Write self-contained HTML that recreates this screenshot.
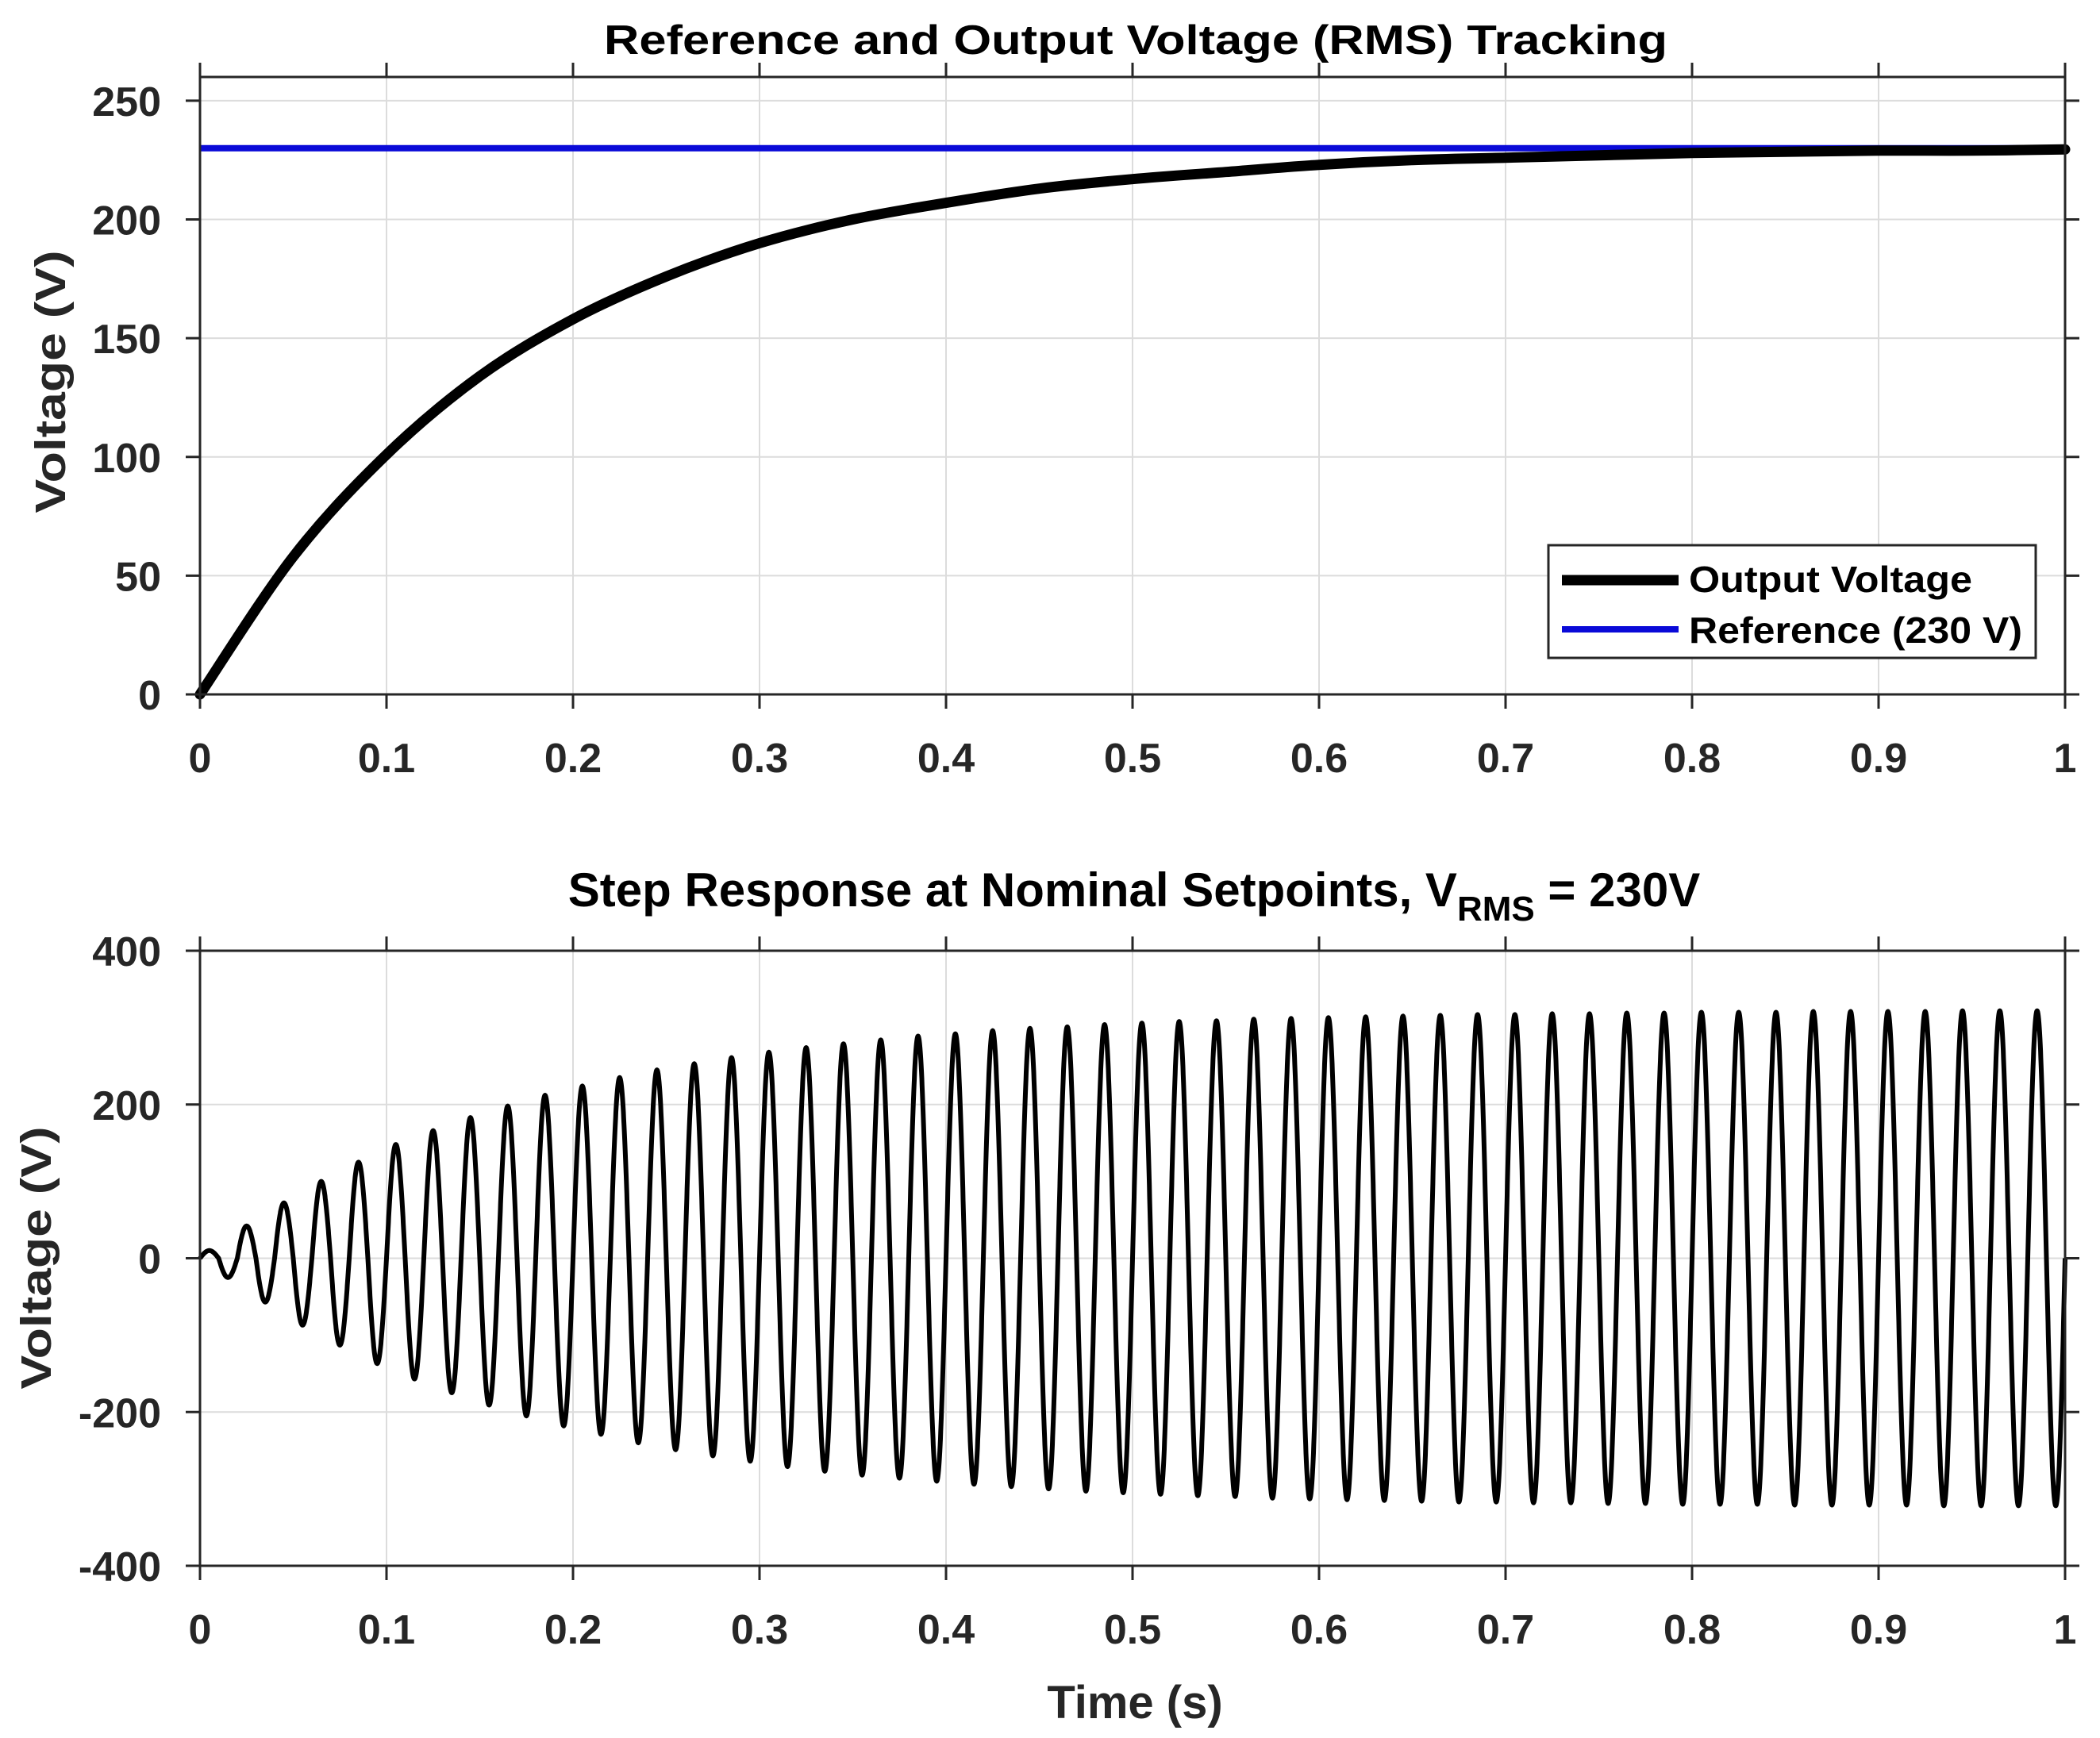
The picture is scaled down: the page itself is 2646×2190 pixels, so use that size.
<!DOCTYPE html>
<html><head><meta charset="utf-8"><style>
html,body{margin:0;padding:0;background:#fff;}
svg{display:block;font-family:"Liberation Sans",Arial,sans-serif;font-weight:bold;}
</style></head><body>
<svg id="fig" width="2646" height="2190" viewBox="0 0 2646 2190" xmlns="http://www.w3.org/2000/svg">
<rect width="2646" height="2190" fill="#fff"/>
<g id="top"></g>
<g id="bot"></g>
</svg>
<script>
// ---- data ----
const xTicks = [0,0.1,0.2,0.3,0.4,0.5,0.6,0.7,0.8,0.9,1];
const xTickLabels = ["0","0.1","0.2","0.3","0.4","0.5","0.6","0.7","0.8","0.9","1"];
const topYTicks = [0,50,100,150,200,250];
const botYTicks = [-400,-200,0,200,400];
const rmsTimes = [0,0.05,0.1,0.15,0.2,0.25,0.3,0.35,0.4,0.45,0.5,0.55,0.6,0.65,0.7,0.75,0.8,0.85,0.9,0.95,1];
const rmsOutput = [0,58,101,134,158,176,190,200,207,213,217,220,223,225,226,227,228,228.5,229,229,229.5];
const referenceValue = 230;
const cycleFreq = 50;
const posPeaks = [10,42,72,100,125,148,166,183,198,212,224,235,245,253,261,268,274,279,284,289,292,296,299,301,304,306,308,309,311,312,313,314,315,316,317,317,318,318,319,319,320,320,320,321,321,321,321,322,322,322];
const negPeaks = [25,57,87,113,137,157,175,191,205,218,229,240,249,257,264,271,277,282,286,290,294,297,300,303,305,307,309,310,312,313,314,315,316,317,317,318,318,319,319,320,320,320,321,321,321,321,322,322,322,322];

const NS="http://www.w3.org/2000/svg";
function mk(tag, attrs, parent){const e=document.createElementNS(NS,tag);for(const k in attrs)e.setAttribute(k,attrs[k]);parent.appendChild(e);return e;}

const X0=252, X1=2602;
const sx = t => X0 + (t-0)/(1-0)*(X1-X0);

function drawAxes(g, yTop, yBot, yMin, yMax, yTicks, prefix){
  const sy = v => yBot - (v-yMin)/(yMax-yMin)*(yBot-yTop);
  xTicks.forEach(t=>{ if(t>0&&t<1){const l=mk('line',{x1:sx(t),x2:sx(t),y1:yTop,y2:yBot,stroke:'#dcdcdc','stroke-width':2},g);
    
    }});
  yTicks.forEach(v=>{ const yy=sy(v); if(yy>yTop+1&&yy<yBot-1){const l=mk('line',{x1:X0,x2:X1,y1:yy,y2:yy,stroke:'#dcdcdc','stroke-width':2},g);
    
    }});
  return sy;
}
function drawFrame(g, yTop, yBot, sy, yTicks, prefix){
  const fr=mk('rect',{x:X0,y:yTop,width:X1-X0,height:yBot-yTop,fill:'none',stroke:'#262626','stroke-width':3},g);
  
  
  const T=18;
  xTicks.forEach((t,i)=>{
    mk('line',{x1:sx(t),x2:sx(t),y1:yBot,y2:yBot+T,stroke:'#262626','stroke-width':3},g);
    mk('line',{x1:sx(t),x2:sx(t),y1:yTop,y2:yTop-T,stroke:'#262626','stroke-width':3},g);
    const tx=mk('text',{x:sx(t),y:yBot+98,'font-size':52,'text-anchor':'middle',fill:'#262626'},g);
    tx.textContent=xTickLabels[i];
    
    
  });
  yTicks.forEach(v=>{
    const yy=sy(v);
    mk('line',{x1:X0-T,x2:X0,y1:yy,y2:yy,stroke:'#262626','stroke-width':3},g);
    mk('line',{x1:X1,x2:X1+T,y1:yy,y2:yy,stroke:'#262626','stroke-width':3},g);
    const tx=mk('text',{x:203,y:yy+19,'font-size':52,'text-anchor':'end',fill:'#262626'},g);
    tx.textContent=String(v);
    
    
  });
}

// ---- top plot ----
(function(){
  const g=document.getElementById('top');
  const yTop=97, yBot=875;
  const sy=drawAxes(g,yTop,yBot,0,260,topYTicks,'top');
  const ref=mk('line',{x1:sx(0),x2:sx(1),y1:sy(referenceValue),y2:sy(referenceValue),stroke:'#0a0ad8','stroke-width':8},g);
  
  
  const P=rmsTimes.map((t,i)=>[sx(t),sy(rmsOutput[i])]);
  let d='M'+P[0][0]+','+P[0][1];
  for(let i=0;i<P.length-1;i++){
    const p0=P[Math.max(0,i-1)],p1=P[i],p2=P[i+1],p3=P[Math.min(P.length-1,i+2)];
    const c1=[p1[0]+(p2[0]-p0[0])/6,p1[1]+(p2[1]-p0[1])/6];
    const c2=[p2[0]-(p3[0]-p1[0])/6,p2[1]-(p3[1]-p1[1])/6];
    d+=` C${c1[0]},${c1[1]} ${c2[0]},${c2[1]} ${p2[0]},${p2[1]}`;
  }
  const out=mk('path',{d:d,fill:'none',stroke:'#000','stroke-width':13,'stroke-linecap':'round'},g);
  
  
  drawFrame(g,yTop,yBot,sy,topYTicks,'top');
  const title=mk('text',{x:1431,y:68,'font-size':52,'text-anchor':'middle',fill:'#000',textLength:1340,lengthAdjust:'spacingAndGlyphs'},g);
  title.textContent='Reference and Output Voltage (RMS) Tracking';
  
  
  const yl=mk('text',{x:0,y:0,'font-size':54,'text-anchor':'middle',fill:'#262626',transform:'translate(82,481) rotate(-90)',textLength:331,lengthAdjust:'spacingAndGlyphs'},g);
  yl.textContent='Voltage (V)';
  
  
  const lg=mk('g',{},g);
  
  
  mk('rect',{x:1951,y:687,width:614,height:142,fill:'#fff',stroke:'#262626','stroke-width':3},lg);
  const e1=mk('g',{},lg);
  
  
  mk('line',{x1:1968,x2:2115,y1:731,y2:731,stroke:'#000','stroke-width':13},e1);
  const t1=mk('text',{x:2128,y:746,'font-size':46,fill:'#000',textLength:357,lengthAdjust:'spacingAndGlyphs'},e1);
  t1.textContent='Output Voltage';
  const e2=mk('g',{},lg);
  
  
  mk('line',{x1:1968,x2:2115,y1:793,y2:793,stroke:'#0a0ad8','stroke-width':8},e2);
  const t2=mk('text',{x:2128,y:810,'font-size':46,fill:'#000',textLength:420,lengthAdjust:'spacingAndGlyphs'},e2);
  t2.textContent='Reference (230 V)';
})();

// ---- bottom plot ----
(function(){
  const g=document.getElementById('bot');
  const yTop=1198, yBot=1973;
  const sy=drawAxes(g,yTop,yBot,-400,400,botYTicks,'bottom');
  const N=6000; let d='';
  for(let i=0;i<=N;i++){
    const t=i/N;
    const ph=t*cycleFreq; const k=Math.min(posPeaks.length-1,Math.floor(ph));
    const s=Math.sin(2*Math.PI*ph);
    const v = s>=0 ? s*posPeaks[k] : s*negPeaks[k];
    d+=(i?'L':'M')+sx(t).toFixed(1)+','+sy(v).toFixed(1);
  }
  const w=mk('path',{d:d,fill:'none',stroke:'#000','stroke-width':6,'stroke-linejoin':'round'},g);
  
  
  drawFrame(g,yTop,yBot,sy,botYTicks,'bottom');
  const title=mk('text',{x:1429,y:1142,'font-size':60,'text-anchor':'middle',fill:'#000'},g);
  
  
  title.innerHTML='Step Response at Nominal Setpoints, V<tspan font-size="44" dy="18">RMS</tspan><tspan dy="-18"> = 230V</tspan>';
  const yl=mk('text',{x:0,y:0,'font-size':54,'text-anchor':'middle',fill:'#262626',transform:'translate(64,1585) rotate(-90)',textLength:331,lengthAdjust:'spacingAndGlyphs'},g);
  yl.textContent='Voltage (V)';
  
  
  const xl=mk('text',{x:1430,y:2165,'font-size':58,'text-anchor':'middle',fill:'#262626'},g);
  xl.textContent='Time (s)';
  
  
})();
</script>
</body></html>
